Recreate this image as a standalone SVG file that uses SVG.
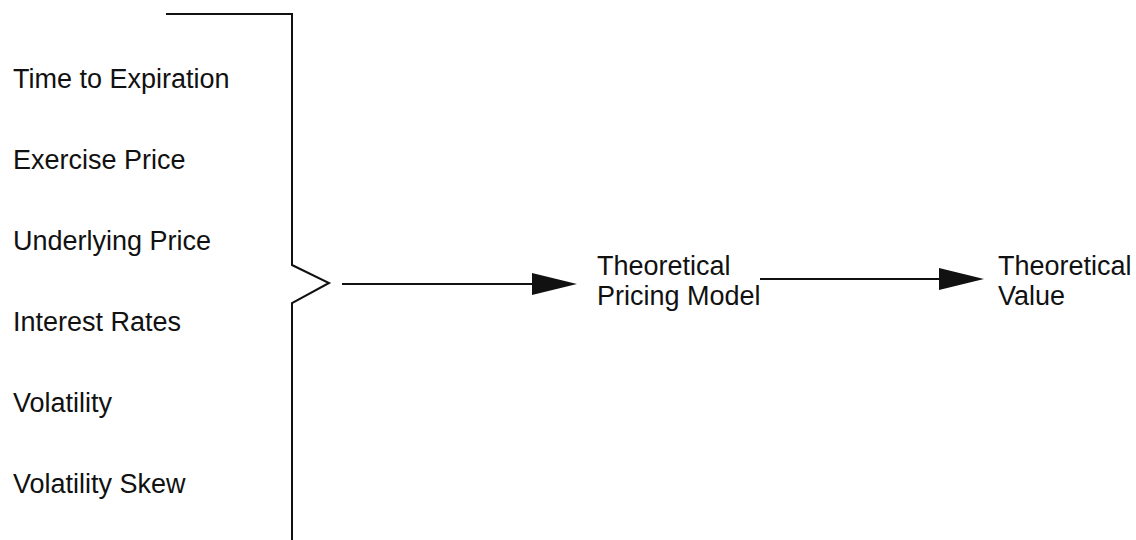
<svg xmlns="http://www.w3.org/2000/svg" width="1136" height="540" viewBox="0 0 1136 540">
<style>
text{font-family:"Liberation Sans",Arial,sans-serif;font-size:27px;fill:#111}
.ln{stroke:#111;stroke-width:2;fill:none}
</style>
<defs>
<marker id="ah" markerUnits="userSpaceOnUse" markerWidth="46" markerHeight="24" refX="0" refY="12" orient="auto">
<path d="M0,1 L45,12 L0,23 Z" fill="#111"/>
</marker>
</defs>
<rect width="1136" height="540" fill="#fff"/>
<g id="inputs">
<path class="ln" d="M166,14 L292,14 L292,265 L329,283 L292,303 L292,540"/>
<text x="13" y="88">Time to Expiration</text>
<text x="13" y="169">Exercise Price</text>
<text x="13" y="250">Underlying Price</text>
<text x="13" y="331">Interest Rates</text>
<text x="13" y="412">Volatility</text>
<text x="13" y="493">Volatility Skew</text>
</g>
<g id="model">
<text x="597" y="275">Theoretical</text>
<text x="597" y="305">Pricing Model</text>
</g>
<g id="value">
<text x="998" y="275">Theoretical</text>
<text x="998" y="305">Value</text>
</g>
<g id="connectors">
<line class="ln" x1="342" y1="284" x2="532" y2="284" marker-end="url(#ah)"/>
<line class="ln" x1="760" y1="279" x2="939" y2="279" marker-end="url(#ah)"/>
</g>
</svg>
